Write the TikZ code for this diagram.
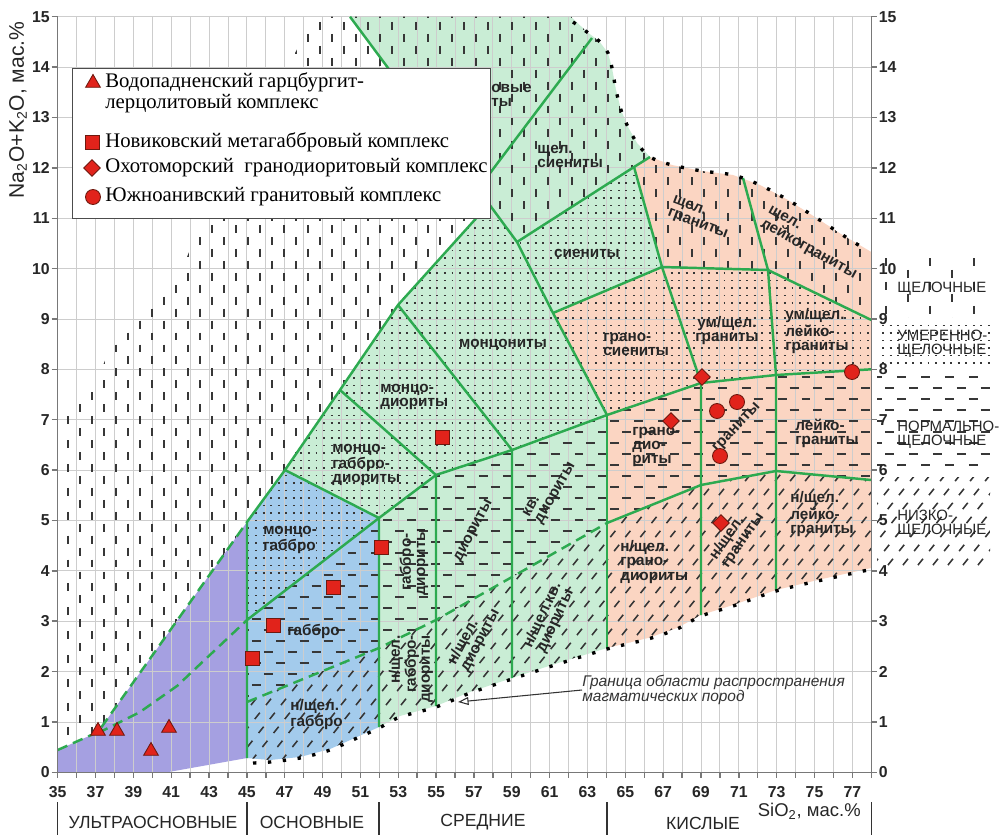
\documentclass[tikz,border=0pt]{standalone}
\usepackage{fontspec}
\setmainfont{Liberation Serif}
\setsansfont{Liberation Sans}
\usetikzlibrary{arrows,arrows.meta,shapes,calc}

\definecolor{fieldgreen}{RGB}{201,237,213}
\definecolor{fieldblue}{RGB}{163,203,236}
\definecolor{fieldviolet}{RGB}{165,160,225}
\definecolor{fieldpink}{RGB}{251,213,194}
\definecolor{linegreen}{RGB}{45,170,80}
\definecolor{markred}{RGB}{225,35,27}
\definecolor{markedge}{RGB}{110,25,15}
\definecolor{gridgray}{RGB}{205,205,205}
\definecolor{axisgray}{RGB}{120,120,120}
\definecolor{hatchgray}{RGB}{55,55,55}

\tikzstyle{gridline} =[gridgray, line width=0.5pt]
\tikzstyle{axisline} =[axisgray, line width=0.8pt]
\tikzstyle{bound}    =[linegreen, line width=1.4pt, line join=round]
\tikzstyle{bounddash}=[bound, dash pattern=on 6pt off 3.5pt]
\tikzstyle{limit}    =[black, line width=1.9pt, dash pattern=on 1.9pt off 6.6pt]
\tikzstyle{vdash}    =[hatchgray, line width=1.1pt, dash pattern=on 4.5pt off 9.1pt]
\tikzstyle{hdash}    =[hatchgray, line width=1.0pt, dash pattern=on 5.1pt off 8.5pt]
\tikzstyle{dotrow}   =[hatchgray, line width=1.1pt, dash pattern=on 1.1pt off 3.2pt]
\tikzstyle{slash}    =[hatchgray, line width=0.9pt, dash pattern=on 4.6pt off 5.6pt]
\tikzstyle{rock}     =[font=\sffamily\bfseries\fontsize{8.7}{8}\selectfont,
                       text=black!85, inner sep=0pt, align=left]
\tikzstyle{ticklab}  =[font=\sffamily\bfseries\fontsize{9}{10}\selectfont,
                       text=black!85, inner sep=0pt]
\tikzstyle{series}   =[font=\sffamily\fontsize{8.5}{8.2}\selectfont,
                       text=black!85, inner sep=0pt, align=left, anchor=west]
\tikzstyle{groupname}=[font=\sffamily\fontsize{10}{12}\selectfont,
                       text=black!85, inner sep=0pt]
\tikzstyle{legtext}  =[font=\fontsize{11.8}{12}\selectfont, inner sep=0pt,
                       align=left, anchor=west]
\tikzstyle{note}     =[font=\sffamily\itshape\fontsize{8.8}{8.6}\selectfont,
                       text=black!80, inner sep=0pt, align=left, anchor=west]
\tikzstyle{pointer}  =[-{Triangle[open, length=6pt, width=4.5pt]}, line width=0.6pt, black!80]
\tikzstyle{sample}   =[draw=markedge, fill=markred, line width=0.5pt, inner sep=0pt]
\tikzstyle{tri}      =[sample, regular polygon, regular polygon sides=3,
                       minimum size=0.34cm]
\tikzstyle{sq}       =[sample, minimum size=0.28cm]
\tikzstyle{dia}      =[sample, diamond, minimum size=0.34cm]
\tikzstyle{circ}     =[sample, circle, minimum size=0.3cm]

\def\alkwhite{(62,748) -- (62,418) -- (98,378) -- (114,338) -- (152,296)
  -- (170,282) -- (185,262) -- (200,225) -- (305,35) -- (314,16.7)
  -- (350,16.7) -- (489,204) -- (398,305) -- (340,390) -- (285,470)
  -- (247,522) -- (98,732) -- (58,750) -- cycle}
\def\alkgreen{(350,16.7) -- (571,16.7) -- (587,32) -- (599,41) -- (608,53)
  -- (612,68) -- (616,90) -- (621,110) -- (628,127) -- (637,143)
  -- (650,157) -- (517,242) -- cycle}
\def\alkpink{(634,167) -- (650,157) -- (672,165) -- (702,171) -- (733,175)
  -- (760,185) -- (788,200) -- (815,217) -- (841,234) -- (871.3,252)
  -- (871.3,320) -- (768,270) -- (662,267) -- cycle}
\def\modfield{(247,522) -- (285,470) -- (340,390) -- (398,305) -- (489,204)
  -- (517,242) -- (634,167) -- (662,267) -- (768,270) -- (871.3,320)
  -- (871.3,369.3) -- (776,375) -- (701,383) -- (607,415) -- (512,450)
  -- (436,475) -- (379,518) -- (247,620) -- cycle}
\def\normfield{(247,620) -- (379,518) -- (436,475) -- (512,450) -- (607,415)
  -- (701,383) -- (776,375) -- (871.3,369.3) -- (871.3,480) -- (776,471)
  -- (701,485) -- (607,523) -- (512,577) -- (436,620) -- (379,648)
  -- (247,702) -- cycle}
\def\lowfield{(247,702) -- (379,648) -- (436,620) -- (512,577) -- (607,523)
  -- (701,485) -- (776,471) -- (871.3,480) -- (871.3,568) -- (822,579)
  -- (776,590) -- (733,605) -- (701,615) -- (677,628) -- (648,638)
  -- (607,648) -- (558,663) -- (512,678) -- (470,692) -- (436,706)
  -- (400,716) -- (379,727) -- (357,737) -- (330,749) -- (300,757)
  -- (270,760) -- (247,758) -- cycle}

\begin{document}
\begin{tikzpicture}[x=0.02cm, y=-0.02cm]
\fill[white] (0,0) rectangle (1000,835);
\useasboundingbox (0,0) rectangle (1000,835);

\fill[fieldviolet] (57.7,772.3) -- (57.7,750) -- (98,732) -- (247,522)
  -- (247,758) -- (167,772.3) -- cycle;
\fill[fieldblue] (247,522) -- (285,470) -- (379,518) -- (379,727) -- (357,737)
  -- (330,749) -- (300,757) -- (270,760) -- (247,758) -- cycle;
\fill[fieldgreen] (285,470) -- (340,390) -- (398,305) -- (489,204) -- (350,16.7)
  -- (571,16.7) -- (587,32) -- (599,41) -- (608,53) -- (612,68) -- (616,90)
  -- (621,110) -- (628,127) -- (637,143) -- (650,157) -- (634,167) -- (662,267)
  -- (553,313) -- (607,415) -- (607,648) -- (558,663) -- (512,678) -- (470,692)
  -- (436,706) -- (400,716) -- (379,727) -- (379,518) -- cycle;
\fill[fieldpink] (634,167) -- (650,157) -- (672,165) -- (702,171) -- (733,175)
  -- (760,185) -- (788,200) -- (815,217) -- (841,234) -- (871.3,252)
  -- (871.3,568) -- (822,579) -- (776,590) -- (733,605) -- (701,615)
  -- (677,628) -- (648,638) -- (607,648) -- (607,415) -- (553,313)
  -- (662,267) -- cycle;

\foreach \k in {0,...,43}
  \draw[gridline] ({57.7+18.92*\k},16.7) -- ({57.7+18.92*\k},772.3);
\foreach \k in {0,...,15}
  \draw[gridline] (57.7,{772.3-50.37*\k}) -- (871.3,{772.3-50.37*\k});

\begin{scope}
  \clip \alkwhite \alkgreen \alkpink;
  \foreach \x in {68,92,...,880} \draw[vdash] (\x,10) -- (\x,770);
  \foreach \x in {80,104,...,880} \draw[vdash, dash phase=6.8pt] (\x,10) -- (\x,770);
\end{scope}
\begin{scope}
  \clip (877,255) rectangle (990,317);
  \foreach \x in {886,930,...,990} \draw[vdash] (\x,258) -- (\x,320);
  \foreach \x in {908,952,...,990} \draw[vdash, dash phase=6.8pt] (\x,258) -- (\x,320);
\end{scope}
\begin{scope}
  \clip \modfield (877,321) rectangle (990,367);
  \foreach \y in {168,175.5,...,622} \draw[dotrow] (240,\y) -- (995,\y);
\end{scope}
\begin{scope}
  \clip \normfield (877,373) rectangle (990,472);
  \foreach \y in {366,388,...,710} \draw[hdash] (240,\y) -- (995,\y);
  \foreach \y in {377,399,...,710} \draw[hdash, dash phase=6.8pt] (240,\y) -- (995,\y);
\end{scope}
\begin{scope}
  \clip \lowfield (877,477) rectangle (990,570);
  \foreach \x in {0,15,...,990} \draw[slash] (\x,775) -- ++(264,-330);
\end{scope}

\draw[bound] (247,758) -- (247,522) -- (285,470) -- (340,390) -- (398,305) -- (489,204);
\draw[bound] (350,16.7) -- (489,204) -- (517,242) -- (553,313) -- (607,415);
\draw[bound] (478,189) -- (592,38);
\draw[bound] (517,242) -- (634,167) -- (650,157);
\draw[bound] (634,167) -- (662,267) -- (701,383) -- (701,615);
\draw[bound] (553,313) -- (662,267) -- (768,270) -- (871.3,320);
\draw[bound] (743,178) -- (768,270) -- (776,375) -- (776,590);
\draw[bound] (285,470) -- (379,518) -- (379,727);
\draw[bound] (340,390) -- (436,475) -- (436,706);
\draw[bound] (398,305) -- (512,450) -- (512,678);
\draw[bound] (607,415) -- (607,648);
\draw[bound] (247,620) -- (379,518) -- (436,475) -- (512,450) -- (607,415)
  -- (701,383) -- (776,375) -- (871.3,369.3);
\draw[bound] (607,523) -- (701,485) -- (776,471) -- (871.3,480);
\draw[bounddash] (247,702) -- (379,648) -- (436,620) -- (512,577) -- (607,523);
\draw[bounddash] (57.7,750) -- (98,732) -- (247,522);
\draw[bounddash] (98,733) -- (140,712) -- (177,686) -- (247,620);

\draw[limit] plot[smooth] coordinates {(573,22) (587,32) (599,41) (608,53)
  (612,68) (616,90) (621,110) (628,127) (637,143) (650,157) (672,165)
  (702,171) (733,175) (760,185) (788,200) (815,217) (841,234) (868,251)};
\draw[limit] plot[smooth] coordinates {(253,763) (270,762) (300,758) (330,750)
  (357,738) (379,728) (400,717) (436,707) (470,693) (512,679) (558,664)
  (607,649) (648,639) (677,629) (701,616) (733,606) (776,591) (822,580) (868,570)};

\draw[axisline] (57.7,16.7) -- (57.7,772.3) -- (871.3,772.3) -- (871.3,16.7);
\foreach \k in {0,...,15} {
  \draw[axisline] (51.7,{772.3-50.37*\k}) -- (57.7,{772.3-50.37*\k});
  \draw[axisline] (871.3,{772.3-50.37*\k}) -- (877.3,{772.3-50.37*\k});
  \node[ticklab, anchor=east] (yl\k) at (50,{772.3-50.37*\k}) {\k};
  \node[ticklab, anchor=west] (yr\k) at (878.5,{772.3-50.37*\k}) {\k};
}
\foreach \k in {0,...,43}
  \draw[axisline] ({57.7+18.92*\k},772.3) -- ({57.7+18.92*\k},778.3);
\foreach \v in {35,37,...,77}
  \node[ticklab] (xl\v) at ({57.7+18.92*(\v-35)},792) {\v};

\foreach \x in {57.7,247,379,607,871.3}
  \draw[black!80, line width=0.9pt] (\x,802) -- (\x,835);
\node[groupname] (ultra) at (153,822) {УЛЬТРАОСНОВНЫЕ};
\node[groupname] (basic) at (312,822) {ОСНОВНЫЕ};
\node[groupname] (inter) at (483,822) {СРЕДНИЕ};
\node[groupname] (acid) at (703,823) {КИСЛЫЕ};
\node[groupname, anchor=east, font=\sffamily\fontsize{10.5}{12}\selectfont] (sio) at (861,811)
  {SiO\textsubscript{2}, мас.\%};
\node[rotate=90, font=\sffamily\fontsize{12}{14}\selectfont, text=black!85] (alk) at (18,110)
  {Na\textsubscript{2}O+K\textsubscript{2}O, мас.\%};

\node[series] (alkser) at (897,289) {ЩЕЛОЧНЫЕ};
\node[series] (modser) at (897,344) {УМЕРЕННО-\\ЩЕЛОЧНЫЕ};
\node[series] (normser) at (897,435) {НОРМАЛЬНО-\\ЩЕЛОЧНЫЕ};
\node[series] (lowser) at (897,524) {НИЗКО-\\ЩЕЛОЧНЫЕ};

\node[rock, anchor=west] (foid) at (491,95) {овые\\ты};
\node[rock, anchor=west] (alksyen) at (537,156) {щел.\\сиениты};
\node[rock] (syen) at (587,253) {сиениты};
\node[rock] (monz) at (503,345) {монцониты};
\node[rock, anchor=west] (monzdior) at (380,397) {монцо-\\диориты};
\node[rock, anchor=west] (monzgabdior) at (332,465) {монцо-\\габбро-\\диориты};
\node[rock, anchor=west] (granosyen) at (603,344) {грано-\\сиениты};
\node[rock, rotate=-21] (alkgran) at (700,218) {щел.\\граниты};
\node[rock, rotate=-29] (alkleuco) at (812,243) {щел.\\лейкограниты};
\node[rock, align=center] (mgran) at (727,331) {ум/щел.\\граниты};
\node[rock, anchor=west] (mleuco) at (785,331) {ум/щел.\\лейко-\\граниты};
\node[rock, anchor=west] (granodior) at (632,447) {грано-\\дио-\\риты};
\node[rock, rotate=47] (gran) at (737,428) {граниты};
\node[rock, anchor=west] (leuco) at (795,433) {лейко-\\граниты};
\node[rock, anchor=west] (lleuco) at (790,514) {н/щел.\\лейко-\\граниты};
\node[rock, rotate=55] (lgran) at (737,536) {н/щел.\\граниты};
\node[rock, anchor=west] (lgranodior) at (620,562) {н/щел.\\грано-\\диориты};
\node[rock, rotate=60] (qdior) at (550,490) {кв.\\диориты};
\node[rock, rotate=62] (dior) at (474,531) {диориты};
\node[rock, rotate=90, align=center] (gabdior) at (414,562) {габбро-\\диориты};
\node[rock, rotate=90, align=right] (lgabdior) at (411,669) {н/щел.\\габбро-\\диориты};
\node[rock, rotate=62] (ldior) at (474,637) {н/щел.\\диориты};
\node[rock, rotate=65, align=center] (lqdior) at (549,618) {н/щел.кв.\\диориты};
\node[rock, anchor=west] (monzgab) at (263,540) {монцо-\\габбро};
\node[rock, anchor=west] (gab) at (287,631) {габбро};
\node[rock, anchor=west] (lgab) at (290,715) {н/щел.\\габбро};

\node[note] (limitnote) at (582,690) {Граница области распространения\\магматических пород};
\coordinate (limitpt) at (458,702);
\draw[pointer] (limitnote.west) -- (limitpt);

\node[tri] (w1) at (98,731) {};
\node[tri] (w2) at (117,731) {};
\node[tri] (w3) at (151,751) {};
\node[tri] (w4) at (169,728) {};
\node[sq] (n1) at (252,658) {};
\node[sq] (n2) at (273,625) {};
\node[sq] (n3) at (333,587) {};
\node[sq] (n4) at (381,547) {};
\node[sq] (n5) at (442,437) {};
\node[dia] (o1) at (671,421) {};
\node[dia] (o2) at (702,377) {};
\node[dia] (o3) at (721,523) {};
\node[circ] (s1) at (717,411) {};
\node[circ] (s2) at (737,402) {};
\node[circ] (s3) at (720,456) {};
\node[circ] (s4) at (852,372) {};

\node[draw=black!70, fill=white, line width=0.85pt, minimum width=8.36cm,
      minimum height=3cm, anchor=north west, inner sep=0pt] (legend) at (72,68) {};
\node[tri] (legw) at (93,83) {};
\node[sq] (legn) at (92,142) {};
\node[dia] (lego) at (92,168) {};
\node[circ] (legs) at (93,197) {};
\node[legtext] (legwt) at (105,93) {Водопадненский гарцбургит-\\лерцолитовый комплекс};
\node[legtext] (legnt) at (105,142) {Новиковский метагаббровый комплекс};
\node[legtext] (legot) at (105,168) {Охотоморский\enspace гранодиоритовый комплекс};
\node[legtext] (legst) at (105,197) {Южноанивский гранитовый комплекс};
\end{tikzpicture}
\end{document}
